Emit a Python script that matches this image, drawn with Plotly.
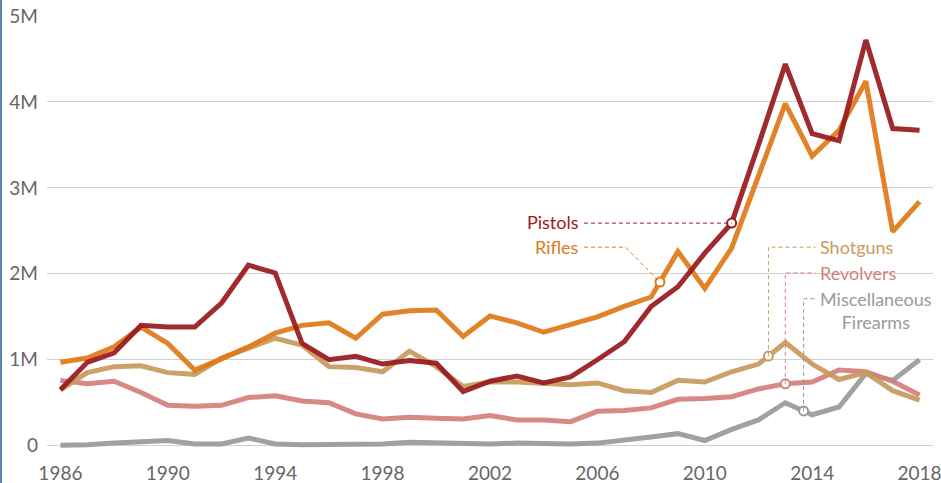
import numpy as np
import plotly.graph_objects as go

years = list(range(1986, 2019))
pistols = [0.65, 0.97, 1.08, 1.40, 1.38, 1.38, 1.66, 2.10, 2.01, 1.19, 1.00, 1.04, 0.95, 0.99, 0.96, 0.63,
           0.75, 0.81, 0.73, 0.80, 1.00, 1.21, 1.62, 1.85, 2.24, 2.59, 3.50, 4.44, 3.63, 3.55, 4.72, 3.69, 3.67]
rifles = [0.97, 1.02, 1.15, 1.38, 1.19, 0.88, 1.01, 1.15, 1.31, 1.40, 1.43, 1.25, 1.53, 1.57, 1.58, 1.27,
          1.51, 1.43, 1.32, 1.41, 1.50, 1.62, 1.73, 2.26, 1.83, 2.30, 3.15, 3.98, 3.37, 3.67, 4.24, 2.49, 2.84]
shotguns = [0.65, 0.85, 0.92, 0.93, 0.85, 0.83, 1.02, 1.14, 1.25, 1.17, 0.92, 0.91, 0.86, 1.10, 0.92, 0.69,
            0.74, 0.74, 0.73, 0.71, 0.73, 0.64, 0.62, 0.76, 0.74, 0.86, 0.95, 1.20, 0.95, 0.77, 0.85, 0.64, 0.53]
revolvers = [0.76, 0.72, 0.75, 0.62, 0.47, 0.46, 0.47, 0.56, 0.58, 0.52, 0.50, 0.37, 0.31, 0.33, 0.32, 0.31,
             0.35, 0.30, 0.30, 0.28, 0.40, 0.41, 0.44, 0.54, 0.55, 0.57, 0.66, 0.72, 0.74, 0.88, 0.86, 0.75, 0.59]
misc = [0.005, 0.01, 0.03, 0.04, 0.06, 0.02, 0.02, 0.09, 0.02, 0.01, 0.015, 0.02, 0.02, 0.04, 0.03, 0.02,
        0.02, 0.03, 0.02, 0.02, 0.03, 0.06, 0.10, 0.14, 0.06, 0.19, 0.30, 0.50, 0.36, 0.45, 0.84, 0.76, 1.00]

y_tick_vals = [0, 1, 2, 3, 4, 5]
y_tick_text = ["0", "1M", "2M", "3M", "4M", "5M"]
x_tick_vals = [1986, 1990, 1994, 1998, 2002, 2006, 2010, 2014, 2018]

series_names = ["Miscellaneous<br>Firearms", "Revolvers", "Shotguns", "Rifles", "Pistols"]
series_values = [misc, revolvers, shotguns, rifles, pistols]
series_colors = ["#9a9a9a", "#d4817d", "#c99a5c", "#e07a1a", "#991a1e"]
# year where each callout touches its line
callout_years = [2013.68, 2013.0, 2012.37, 2008.33, 2011.0]

FONT = "Lato"
LABEL_SIZE = 18

fig = go.Figure()
for name, vals, col in zip(series_names, series_values, series_colors):
    fig.add_trace(go.Scatter(x=years, y=vals, mode="lines", name=name,
                             line=dict(color=col, width=5), opacity=0.93,
                             hoverinfo="skip", showlegend=False))

shapes = []
annotations = []

# white box hiding gridline behind right-hand labels
shapes.append(dict(type="rect", xref="x", yref="y", x0=2012.0, x1=2018.6, y0=1.9, y1=2.1,
                   fillcolor="white", line=dict(width=0), layer="below"))

for name, vals, col, cy in zip(series_names, series_values, series_colors, callout_years):
    my = float(np.interp(cy, years, vals))
    if name == "Pistols":
        ly = my
        shapes.append(dict(type="line", xref="x", yref="y", x0=2005.5, x1=cy, y0=ly, y1=ly,
                           line=dict(color=col, width=1, dash="4px,3px")))
        annotations.append(dict(x=2005.38, y=ly + 0.01, xref="x", yref="y", text=name, showarrow=False,
                                xanchor="right", yanchor="middle",
                                font=dict(family=FONT, size=LABEL_SIZE, color=col)))
    elif name == "Rifles":
        ly = 2.31
        shapes.append(dict(type="path", xref="x", yref="y",
                           path=f"M 2005.5 {ly} L 2007.05 {ly} L {cy} {my}",
                           line=dict(color=col, width=1, dash="4px,3px")))
        annotations.append(dict(x=2005.38, y=ly, xref="x", yref="y", text=name, showarrow=False,
                                xanchor="right", yanchor="middle",
                                font=dict(family=FONT, size=LABEL_SIZE, color=col)))
    else:
        ly = {"Shotguns": 2.31, "Revolvers": 2.01, "Miscellaneous<br>Firearms": 1.71}[name]
        shapes.append(dict(type="path", xref="x", yref="y",
                           path=f"M {cy} {my} L {cy} {ly} L 2014.12 {ly}",
                           line=dict(color=col, width=1, dash="4px,3px")))
        if name.startswith("Misc"):
            annotations.append(dict(x=2014.2, y=ly, xref="x", yref="y", text=name, showarrow=False,
                                    xanchor="left", yanchor="top", align="center", yshift=13,
                                    font=dict(family=FONT, size=LABEL_SIZE, color=col)))
        else:
            annotations.append(dict(x=2014.2, y=ly, xref="x", yref="y", text=name, showarrow=False,
                                    xanchor="left", yanchor="middle",
                                    font=dict(family=FONT, size=LABEL_SIZE, color=col)))
    fig.add_trace(go.Scatter(x=[cy], y=[my], mode="markers", showlegend=False, hoverinfo="skip",
                             marker=dict(size=9, color="white", line=dict(color=col, width=2))))

# blue left edge
shapes.append(dict(type="line", xref="paper", yref="paper", x0=-0.0519, x1=-0.0519, y0=-1, y1=2,
                   line=dict(color="#5b85b3", width=2)))

fig.update_layout(
    width=941, height=483,
    margin=dict(l=47, r=8, t=16, b=27, autoexpand=False),
    plot_bgcolor="white", paper_bgcolor="white",
    shapes=shapes, annotations=annotations,
    font=dict(family=FONT, size=19, color="#666666"),
)
fig.update_xaxes(range=[1985.5, 2018.5], tickvals=x_tick_vals, showgrid=False, zeroline=False,
                 showline=False, ticks="", automargin=False, ticklabeloverflow="allow",
                 ticklabelstandoff=4,
                 tickfont=dict(family=FONT, size=19, color="#666666"))
fig.update_yaxes(range=[-0.12, 5.0], tickvals=y_tick_vals, ticktext=y_tick_text, showgrid=True,
                 gridcolor="#d0d0d0", gridwidth=1, zeroline=False, showline=False, ticks="",
                 automargin=False, ticklabelstandoff=8, ticklabeloverflow="allow",
                 tickfont=dict(family=FONT, size=19, color="#666666"))

fig.write_html("out.html", config={"displayModeBar": False},
               post_script="document.body.style.margin='0';document.body.style.overflow='hidden';")
